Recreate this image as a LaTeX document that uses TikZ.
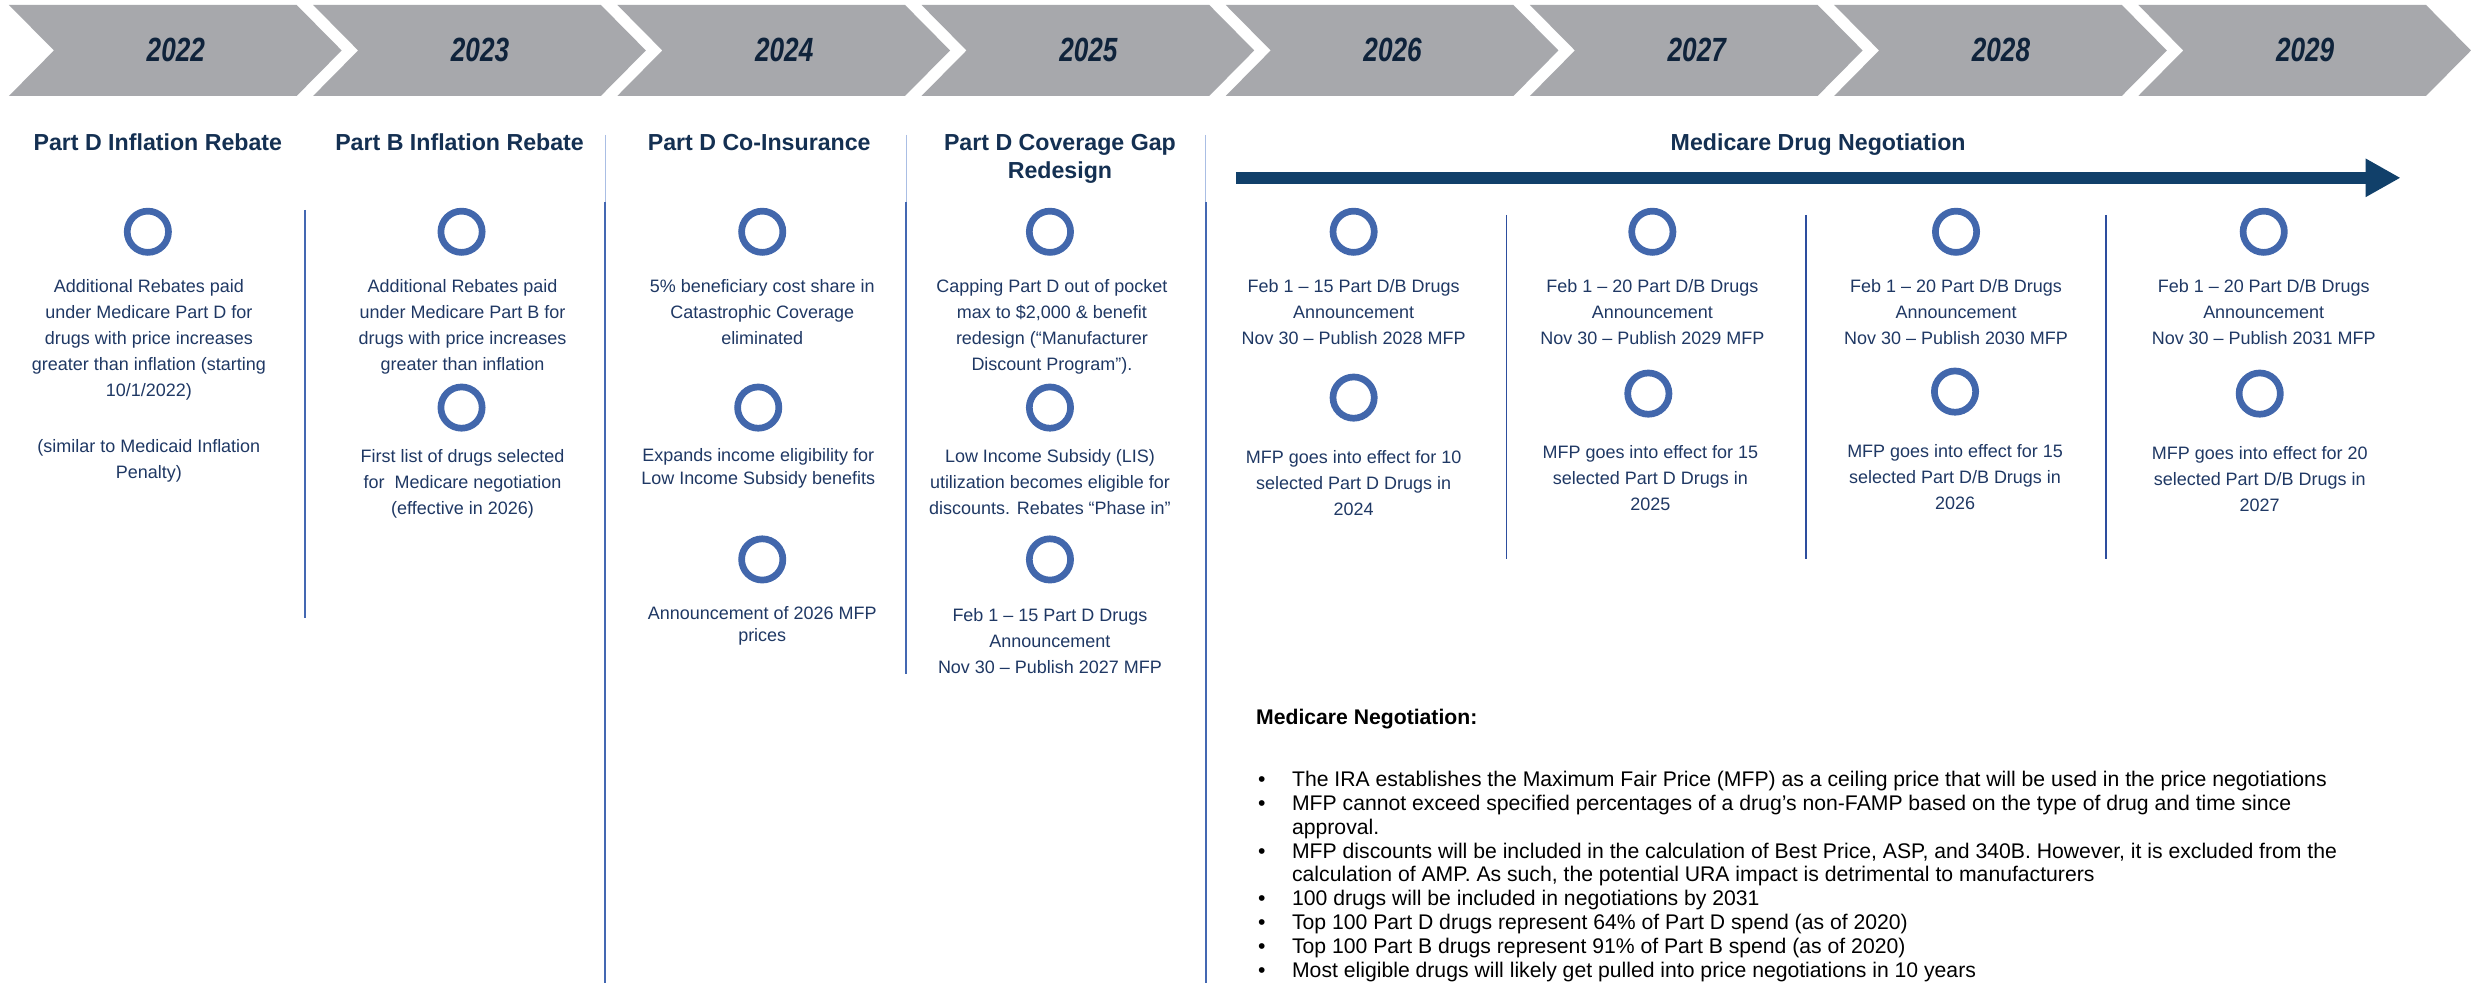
\documentclass[tikz,border=0pt]{standalone}
\usepackage{fontspec}
\setmainfont{Liberation Sans}
\newfontfamily\yearfont[FakeStretch=0.78]{Liberation Sans}
\usetikzlibrary{arrows.meta}

\definecolor{chevgray}{RGB}{167,168,172}
\definecolor{yearblue}{RGB}{15,35,59}
\definecolor{headblue}{RGB}{20,48,82}
\definecolor{textblue}{RGB}{31,56,100}
\definecolor{ringblue}{RGB}{66,103,172}
\definecolor{arrowblue}{RGB}{17,64,106}
\definecolor{ruleblue}{RGB}{68,104,178}
\definecolor{faintblue}{RGB}{170,190,228}
\definecolor{subblue}{RGB}{45,78,158}

\newcommand{\blt}{\makebox[18pt][l]{\hspace{1pt}\textbullet}}

\begin{document}
\begin{tikzpicture}[x=0.5pt, y=-0.5pt,
    chevron/.style={fill=chevgray},
    yearlbl/.style={font=\yearfont\bfseries\itshape\fontsize{16.8}{18}\selectfont, text=yearblue},
    colhead/.style={font=\bfseries\fontsize{11.6}{14}\selectfont, text=headblue, align=center, anchor=base, inner sep=0pt},
    colbody/.style={font=\fontsize{9}{13}\selectfont, text=textblue, align=center, anchor=base, inner sep=0pt},
    tightbody/.style={colbody, font=\fontsize{9}{11.3}\selectfont},
    ringmark/.style={circle, draw=ringblue, line width=3.35pt, minimum size=20.65pt, inner sep=0pt},
    colrule/.style={ruleblue, line width=0.9pt},
    faintrule/.style={faintblue, line width=0.5pt},
    subrule/.style={subblue, line width=0.7pt}]

\fill[white] (0,0) rectangle (2471,984);

\fill[chevron] (9,5) -- (297,5) -- (342,50.5) -- (297,96) -- (9,96) -- (54,50.5) -- cycle;
\node[yearlbl] (y22) at (176,50) {2022};
\fill[chevron] (313.5,5) -- (601.5,5) -- (646.5,50.5) -- (601.5,96) -- (313.5,96) -- (358.5,50.5) -- cycle;
\node[yearlbl] (y23) at (480.5,50) {2023};
\fill[chevron] (618,5) -- (906,5) -- (951,50.5) -- (906,96) -- (618,96) -- (663,50.5) -- cycle;
\node[yearlbl] (y24) at (785,50) {2024};
\fill[chevron] (922.5,5) -- (1210.5,5) -- (1255.5,50.5) -- (1210.5,96) -- (922.5,96) -- (967.5,50.5) -- cycle;
\node[yearlbl] (y25) at (1089.5,50) {2025};
\fill[chevron] (1227,5) -- (1515,5) -- (1560,50.5) -- (1515,96) -- (1227,96) -- (1272,50.5) -- cycle;
\node[yearlbl] (y26) at (1394,50) {2026};
\fill[chevron] (1531.5,5) -- (1819.5,5) -- (1864.5,50.5) -- (1819.5,96) -- (1531.5,96) -- (1576.5,50.5) -- cycle;
\node[yearlbl] (y27) at (1698.5,50) {2027};
\fill[chevron] (1836,5) -- (2124,5) -- (2169,50.5) -- (2124,96) -- (1836,96) -- (1881,50.5) -- cycle;
\node[yearlbl] (y28) at (2003,50) {2028};
\fill[chevron] (2140.5,5) -- (2428.5,5) -- (2473.5,50.5) -- (2428.5,96) -- (2140.5,96) -- (2185.5,50.5) -- cycle;
\node[yearlbl] (y29) at (2307.5,50) {2029};

\draw[colrule] (305,210) -- (305,619);
\draw[faintrule] (606,135) -- (606,202);
\draw[colrule] (606,202) -- (606,984);
\draw[faintrule] (907,135) -- (907,202);
\draw[colrule] (907,202) -- (907,675);
\draw[faintrule] (1207,135) -- (1207,202);
\draw[colrule] (1207,202) -- (1207,984);
\draw[subrule] (1508,215) -- (1508,560);
\draw[subrule] (1808,215) -- (1808,560);
\draw[subrule] (2108,215) -- (2108,560);

% base anchor of a multi-line node sits on its last line
\node[colhead] (h1) at (158,151) {Part D Inflation Rebate};
\node[colhead] (h2) at (460,151) {Part B Inflation Rebate};
\node[colhead] (h3) at (760,151) {Part D Co-Insurance};
\node[colhead] (h4) at (1061,179) {Part D Coverage Gap\\Redesign};
\node[colhead] (h5) at (1820,151) {Medicare Drug Negotiation};

\coordinate (negstart) at (1237,178);
\coordinate (negend) at (2403,178);
\draw[arrowblue, line width=6pt, -{Triangle[length=17.5pt, width=18pt]}] (negstart) -- (negend);

\node[ringmark] (r1a) at (148,232) {};
\node[colbody] (t1a) at (149,397) {Additional Rebates paid\\under Medicare Part D for\\drugs with price increases\\greater than inflation (starting\\10/1/2022)};
\node[colbody] (t1b) at (149,479) {(similar to Medicaid Inflation\\Penalty)};

\node[ringmark] (r2a) at (462,232) {};
\node[colbody] (t2a) at (463,371) {Additional Rebates paid\\under Medicare Part B for\\drugs with price increases\\greater than inflation};
\node[ringmark] (r2b) at (462,408) {};
\node[colbody] (t2b) at (463,515) {First list of drugs selected\\for\ \ Medicare negotiation\\(effective in 2026)};

\node[ringmark] (r3a) at (763,232) {};
\node[colbody] (t3a) at (763,345) {5\% beneficiary cost share in\\Catastrophic Coverage\\eliminated};
\node[ringmark] (r3b) at (759,408) {};
\node[tightbody] (t3b) at (759,484.6) {Expands income eligibility for\\Low Income Subsidy benefits};
\node[ringmark] (r3c) at (763,560) {};
\node[tightbody] (t3c) at (763,642.6) {Announcement of 2026 MFP\\prices};

\node[ringmark] (r4a) at (1051,232) {};
\node[colbody] (t4a) at (1053,371) {Capping Part D out of pocket\\max to \$2,000 \& benefit\\redesign (“Manufacturer\\Discount Program”).};
\node[ringmark] (r4b) at (1051,408) {};
\node[colbody] (t4b) at (1051,515) {Low Income Subsidy (LIS)\\utilization becomes eligible for\\discounts. Rebates “Phase in”};
\node[ringmark] (r4c) at (1051,560) {};
\node[colbody] (t4c) at (1051,674) {Feb 1 – 15 Part D Drugs\\Announcement\\Nov 30 – Publish 2027 MFP};

\node[ringmark] (r5a) at (1355,232) {};
\node[colbody] (t5a) at (1355,345) {Feb 1 – 15 Part D/B Drugs\\Announcement\\Nov 30 – Publish 2028 MFP};
\node[ringmark] (r5b) at (1355,398) {};
\node[colbody] (t5b) at (1355,516) {MFP goes into effect for 10\\selected Part D Drugs in\\2024};

\node[ringmark] (r6a) at (1654,232) {};
\node[colbody] (t6a) at (1654,345) {Feb 1 – 20 Part D/B Drugs\\Announcement\\Nov 30 – Publish 2029 MFP};
\node[ringmark] (r6b) at (1650,394) {};
\node[colbody] (t6b) at (1652,511) {MFP goes into effect for 15\\selected Part D Drugs in\\2025};

\node[ringmark] (r7a) at (1958,232) {};
\node[colbody] (t7a) at (1958,345) {Feb 1 – 20 Part D/B Drugs\\Announcement\\Nov 30 – Publish 2030 MFP};
\node[ringmark] (r7b) at (1957,392) {};
\node[colbody] (t7b) at (1957,510) {MFP goes into effect for 15\\selected Part D/B Drugs in\\2026};

\node[ringmark] (r8a) at (2266,232) {};
\node[colbody] (t8a) at (2266,345) {Feb 1 – 20 Part D/B Drugs\\Announcement\\Nov 30 – Publish 2031 MFP};
\node[ringmark] (r8b) at (2262,394) {};
\node[colbody] (t8b) at (2262,512) {MFP goes into effect for 20\\selected Part D/B Drugs in\\2027};

\node[anchor=base west, align=left, inner sep=0pt, font=\fontsize{10.6}{11.9}\selectfont] (negnotes) at (1257,978) {\textbf{Medicare Negotiation:}\\[19.1pt]
\blt The IRA establishes the Maximum Fair Price (MFP) as a ceiling price that will be used in the price negotiations\\
\blt MFP cannot exceed specified percentages of a drug’s non-FAMP based on the type of drug and time since\\
\hspace*{18pt}approval.\\
\blt MFP discounts will be included in the calculation of Best Price, ASP, and 340B. However, it is excluded from the\\
\hspace*{18pt}calculation of AMP. As such, the potential URA impact is detrimental to manufacturers\\
\blt 100 drugs will be included in negotiations by 2031\\
\blt Top 100 Part D drugs represent 64\% of Part D spend (as of 2020)\\
\blt Top 100 Part B drugs represent 91\% of Part B spend (as of 2020)\\
\blt Most eligible drugs will likely get pulled into price negotiations in 10 years};

\end{tikzpicture}
\end{document}
